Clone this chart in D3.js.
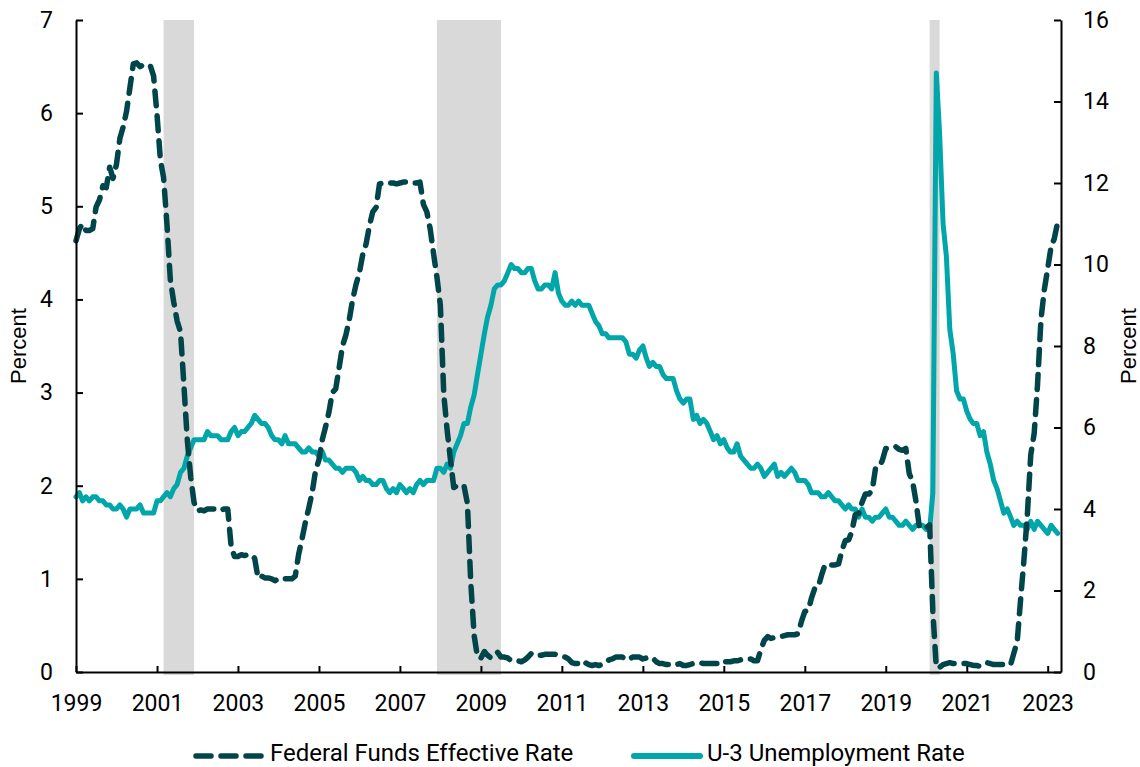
<!DOCTYPE html>
<html>
<head>
<meta charset="utf-8">
<script src="https://cdn.jsdelivr.net/npm/d3@7"></script>
<style>
  html, body { margin: 0; padding: 0; background: #fff; }
  svg { display: block; }
  .tick-label { font-family: Roboto, "Liberation Sans", sans-serif; font-size: 23px; fill: #000; }
  .legend-label { font-family: Roboto, "Liberation Sans", sans-serif; font-size: 24px; fill: #000; }
  .axis-title { font-family: "Liberation Sans", Arial, sans-serif; font-size: 22px; fill: #000; }
</style>
</head>
<body>
<svg id="chart" width="1140" height="767"></svg>
<script>
// Monthly series, January 1999 through April 2023
const startMonth = "1999-01";

// Federal funds effective rate, percent
const fedFunds = [
  4.63, 4.76, 4.81, 4.74, 4.74, 4.76, 4.99, 5.07, 5.22, 5.20, 5.42, 5.30,
  5.45, 5.73, 5.85, 6.02, 6.27, 6.53, 6.54, 6.50, 6.52, 6.51, 6.51, 6.40,
  5.98, 5.49, 5.31, 4.80, 4.21, 3.97, 3.77, 3.65, 3.07, 2.49, 2.09, 1.82,
  1.73, 1.74, 1.73, 1.75, 1.75, 1.75, 1.73, 1.74, 1.75, 1.75, 1.34, 1.24,
  1.24, 1.26, 1.25, 1.26, 1.26, 1.22, 1.01, 1.03, 1.01, 1.01, 1.00, 0.98,
  1.00, 1.01, 1.00, 1.00, 1.00, 1.03, 1.26, 1.43, 1.61, 1.76, 1.93, 2.16,
  2.28, 2.50, 2.63, 2.79, 3.00, 3.04, 3.26, 3.50, 3.62, 3.78, 4.00, 4.16,
  4.29, 4.49, 4.59, 4.79, 4.94, 4.99, 5.24, 5.25, 5.25, 5.25, 5.25, 5.24,
  5.25, 5.26, 5.26, 5.25, 5.25, 5.25, 5.26, 5.02, 4.94, 4.76, 4.49, 4.24,
  3.94, 2.98, 2.61, 2.28, 1.98, 2.00, 2.01, 2.00, 1.81, 0.97, 0.39, 0.16,
  0.15, 0.22, 0.18, 0.15, 0.18, 0.21, 0.16, 0.16, 0.15, 0.12, 0.12, 0.12,
  0.11, 0.13, 0.16, 0.20, 0.20, 0.18, 0.18, 0.19, 0.19, 0.19, 0.19, 0.18,
  0.17, 0.16, 0.14, 0.10, 0.09, 0.09, 0.07, 0.10, 0.08, 0.07, 0.08, 0.07,
  0.08, 0.10, 0.13, 0.14, 0.16, 0.16, 0.16, 0.13, 0.14, 0.16, 0.16, 0.16,
  0.14, 0.15, 0.14, 0.15, 0.11, 0.09, 0.09, 0.08, 0.08, 0.09, 0.08, 0.09,
  0.07, 0.07, 0.08, 0.09, 0.09, 0.10, 0.09, 0.09, 0.09, 0.09, 0.09, 0.12,
  0.11, 0.11, 0.11, 0.12, 0.12, 0.13, 0.13, 0.14, 0.14, 0.12, 0.12, 0.24,
  0.34, 0.38, 0.36, 0.37, 0.37, 0.38, 0.39, 0.40, 0.40, 0.40, 0.41, 0.54,
  0.65, 0.66, 0.79, 0.90, 0.91, 1.04, 1.15, 1.16, 1.15, 1.15, 1.16, 1.30,
  1.41, 1.42, 1.51, 1.69, 1.70, 1.82, 1.91, 1.91, 1.95, 2.19, 2.20, 2.27,
  2.40, 2.40, 2.41, 2.42, 2.39, 2.38, 2.40, 2.13, 2.04, 1.83, 1.55, 1.55,
  1.55, 1.58, 0.65, 0.05, 0.05, 0.08, 0.09, 0.10, 0.09, 0.09, 0.09, 0.09,
  0.09, 0.08, 0.07, 0.07, 0.06, 0.08, 0.10, 0.09, 0.08, 0.08, 0.08, 0.08,
  0.08, 0.08, 0.20, 0.33, 0.77, 1.21, 1.68, 2.33, 2.56, 3.08, 3.78, 4.10,
  4.33, 4.57, 4.65, 4.83
];

// U-3 unemployment rate, percent
const unemployment = [
  4.3, 4.4, 4.2, 4.3, 4.2, 4.3, 4.3, 4.2, 4.2, 4.1, 4.1, 4.0,
  4.0, 4.1, 4.0, 3.8, 4.0, 4.0, 4.0, 4.1, 3.9, 3.9, 3.9, 3.9,
  4.2, 4.2, 4.3, 4.4, 4.3, 4.5, 4.6, 4.9, 5.0, 5.3, 5.5, 5.7,
  5.7, 5.7, 5.7, 5.9, 5.8, 5.8, 5.8, 5.7, 5.7, 5.7, 5.9, 6.0,
  5.8, 5.9, 5.9, 6.0, 6.1, 6.3, 6.2, 6.1, 6.1, 6.0, 5.8, 5.7,
  5.7, 5.6, 5.8, 5.6, 5.6, 5.6, 5.5, 5.4, 5.4, 5.5, 5.4, 5.4,
  5.3, 5.4, 5.2, 5.2, 5.1, 5.0, 5.0, 4.9, 5.0, 5.0, 5.0, 4.9,
  4.7, 4.8, 4.7, 4.7, 4.6, 4.6, 4.7, 4.7, 4.5, 4.4, 4.5, 4.4,
  4.6, 4.5, 4.4, 4.5, 4.4, 4.6, 4.7, 4.6, 4.7, 4.7, 4.7, 5.0,
  5.0, 4.9, 5.1, 5.0, 5.4, 5.6, 5.8, 6.1, 6.1, 6.5, 6.8, 7.3,
  7.8, 8.3, 8.7, 9.0, 9.4, 9.5, 9.5, 9.6, 9.8, 10.0, 9.9, 9.9,
  9.8, 9.8, 9.9, 9.9, 9.6, 9.4, 9.4, 9.5, 9.5, 9.4, 9.8, 9.3,
  9.1, 9.0, 9.0, 9.1, 9.0, 9.1, 9.0, 9.0, 9.0, 8.8, 8.6, 8.5,
  8.3, 8.3, 8.2, 8.2, 8.2, 8.2, 8.2, 8.1, 7.8, 7.8, 7.7, 7.9,
  8.0, 7.7, 7.5, 7.6, 7.5, 7.5, 7.3, 7.2, 7.2, 7.2, 6.9, 6.7,
  6.6, 6.7, 6.7, 6.2, 6.3, 6.1, 6.2, 6.1, 5.9, 5.7, 5.8, 5.6,
  5.7, 5.5, 5.4, 5.4, 5.6, 5.3, 5.2, 5.1, 5.0, 5.0, 5.1, 5.0,
  4.8, 4.9, 5.0, 5.1, 4.8, 4.9, 4.8, 4.9, 5.0, 4.9, 4.7, 4.7,
  4.7, 4.6, 4.4, 4.4, 4.4, 4.3, 4.3, 4.4, 4.3, 4.2, 4.2, 4.1,
  4.0, 4.1, 4.0, 4.0, 3.8, 4.0, 3.8, 3.8, 3.7, 3.8, 3.8, 3.9,
  4.0, 3.8, 3.8, 3.7, 3.6, 3.6, 3.7, 3.6, 3.5, 3.6, 3.6, 3.6,
  3.5, 3.5, 4.4, 14.7, 13.2, 11.0, 10.2, 8.4, 7.8, 6.9, 6.7, 6.7,
  6.4, 6.2, 6.1, 6.1, 5.8, 5.9, 5.4, 5.1, 4.7, 4.5, 4.2, 3.9,
  4.0, 3.8, 3.6, 3.7, 3.6, 3.6, 3.5, 3.7, 3.5, 3.7, 3.6, 3.5,
  3.4, 3.6, 3.5, 3.4
];

// Recessions (first and last month)
const recessions = [
  ["2001-03", "2001-11"],
  ["2007-12", "2009-06"],
  ["2020-02", "2020-04"]
];

const xTickYears = [1999, 2001, 2003, 2005, 2007, 2009, 2011, 2013, 2015, 2017, 2019, 2021, 2023];
const leftTicks = [0, 1, 2, 3, 4, 5, 6, 7];
const rightTicks = [0, 2, 4, 6, 8, 10, 12, 14, 16];

const seriesNames = ["Federal Funds Effective Rate", "U-3 Unemployment Rate"];
const colors = { fed: "#00454a", unemp: "#00a6a9", recession: "#d9d9d9" };

const parseMonth = d3.timeParse("%Y-%m");
const start = parseMonth(startMonth);
const monthAt = i => d3.timeMonth.offset(start, i);

const fedData = fedFunds.map((v, i) => ({ date: monthAt(i), value: v }));
const unempData = unemployment.map((v, i) => ({ date: monthAt(i), value: v }));

const margin = { left: 76, right: 79, top: 20, bottom: 95 };
const W = 1140, H = 767;
const plotRight = W - margin.right;
const plotBottom = H - margin.bottom;

const svg = d3.select("#chart");

const x = d3.scaleTime()
  .domain([start, d3.timeMonth.offset(start, fedFunds.length)])
  .range([margin.left, plotRight]);
const yLeft = d3.scaleLinear().domain([0, 7]).range([plotBottom, margin.top]);
const yRight = d3.scaleLinear().domain([0, 16]).range([plotBottom, margin.top]);

// Recession bands
svg.append("g")
  .selectAll("rect")
  .data(recessions)
  .join("rect")
  .attr("x", d => x(parseMonth(d[0])))
  .attr("width", d => x(d3.timeMonth.offset(parseMonth(d[1]), 1)) - x(parseMonth(d[0])))
  .attr("y", margin.top)
  .attr("height", plotBottom - margin.top + 3)
  .attr("fill", colors.recession);

// Series lines
const lineFed = d3.line().x(d => x(d.date)).y(d => yLeft(d.value));
const lineUnemp = d3.line().x(d => x(d.date)).y(d => yRight(d.value));

svg.append("path")
  .datum(unempData)
  .attr("d", lineUnemp)
  .attr("fill", "none")
  .attr("stroke", colors.unemp)
  .attr("stroke-width", 5)
  .attr("stroke-linejoin", "round")
  .attr("stroke-linecap", "round");

svg.append("path")
  .datum(fedData)
  .attr("d", lineFed)
  .attr("fill", "none")
  .attr("stroke", colors.fed)
  .attr("stroke-width", 5.5)
  .attr("stroke-dasharray", "15 10")
  .attr("stroke-linejoin", "round")
  .attr("stroke-linecap", "round");

// Axes
const xAxis = d3.axisBottom(x)
  .tickValues(xTickYears.map(y => new Date(y, 0, 1)))
  .tickFormat(d3.timeFormat("%Y"))
  .tickSizeInner(-6)
  .tickSizeOuter(0)
  .tickPadding(22);

const leftAxis = d3.axisLeft(yLeft)
  .tickValues(leftTicks)
  .tickFormat(d3.format("d"))
  .tickSizeInner(-7)
  .tickSizeOuter(0)
  .tickPadding(22);

const rightAxis = d3.axisRight(yRight)
  .tickValues(rightTicks)
  .tickFormat(d3.format("d"))
  .tickSizeInner(-7)
  .tickSizeOuter(0)
  .tickPadding(22);

function styleAxis(g) {
  g.select(".domain").attr("stroke", "#000").attr("stroke-width", 2);
  g.selectAll(".tick line").attr("stroke", "#000").attr("stroke-width", 2);
  g.selectAll(".tick text").attr("class", "tick-label").attr("fill", "#000");
  g.attr("font-family", null).attr("font-size", null);
}

svg.append("g")
  .attr("transform", `translate(0,${plotBottom})`)
  .call(xAxis)
  .call(styleAxis)
  .call(g => g.selectAll(".tick text").attr("dy", "0.71em").attr("y", 23));

svg.append("g")
  .attr("transform", `translate(${margin.left},0)`)
  .call(leftAxis)
  .call(styleAxis)
  .call(g => g.selectAll(".tick text").attr("x", -23));

svg.append("g")
  .attr("transform", `translate(${plotRight},0)`)
  .call(rightAxis)
  .call(styleAxis)
  .call(g => g.selectAll(".tick text").attr("x", 22));

// Axis titles
const midY = (margin.top + plotBottom) / 2;
svg.append("text")
  .attr("class", "axis-title")
  .attr("transform", `translate(26,${midY}) rotate(-90)`)
  .attr("text-anchor", "middle")
  .text("Percent");
svg.append("text")
  .attr("class", "axis-title")
  .attr("transform", `translate(1136,${midY}) rotate(-90)`)
  .attr("text-anchor", "middle")
  .text("Percent");

// Legend
const legendY = 756;
const legendTextBaseline = 761;
const legendItems = [
  { name: seriesNames[0], x1: 196, x2: 261, textX: 270, color: colors.fed, dash: "15 10", width: 5.5 },
  { name: seriesNames[1], x1: 634, x2: 700, textX: 707, color: colors.unemp, dash: null, width: 6 }
];
const legend = svg.append("g");
legendItems.forEach(item => {
  legend.append("line")
    .attr("x1", item.x1).attr("x2", item.x2)
    .attr("y1", legendY).attr("y2", legendY)
    .attr("stroke", item.color)
    .attr("stroke-width", item.width)
    .attr("stroke-linecap", "round")
    .attr("stroke-dasharray", item.dash);
  legend.append("text")
    .attr("class", "legend-label")
    .attr("x", item.textX)
    .attr("y", legendTextBaseline)
    .text(item.name);
});
</script>
</body>
</html>
